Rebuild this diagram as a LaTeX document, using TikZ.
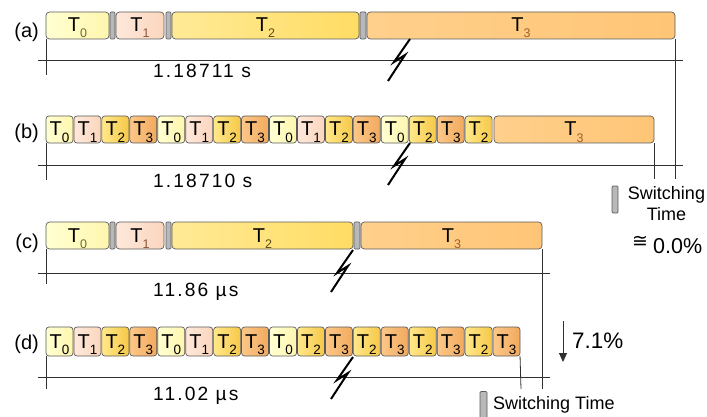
\documentclass[tikz,border=0pt]{standalone}
\usepackage{fontspec}
\setmainfont{Liberation Sans}
\newfontfamily\dejavu{DejaVu Sans}
\newfontfamily\spacedfont[LetterSpace=11]{Liberation Sans}
\usetikzlibrary{arrows.meta}
\definecolor{bordc}{HTML}{5A5A5A}
\definecolor{axc}{HTML}{303030}
\definecolor{sepc}{HTML}{B8B8B8}
\definecolor{zL}{HTML}{FFFFD2}
\definecolor{zR}{HTML}{FFF6AE}
\definecolor{oL}{HTML}{FEE8DA}
\definecolor{oR}{HTML}{FBD6BE}
\definecolor{tL}{HTML}{FFEA96}
\definecolor{tR}{HTML}{FFDC64}
\definecolor{hL}{HTML}{FFD08C}
\definecolor{hR}{HTML}{FFC576}
\definecolor{stL}{HTML}{FFE88A}
\definecolor{stR}{HTML}{F6C848}
\definecolor{shL}{HTML}{FBC788}
\definecolor{shR}{HTML}{F2AA5E}
\definecolor{subz}{HTML}{6E6A30}
\definecolor{subo}{HTML}{8A5538}
\definecolor{subt}{HTML}{5E4A18}
\definecolor{subh}{HTML}{A0602A}
\newcommand\tbox[7]{%
  \node[#6, minimum width={(#3-#2)*1pt}, minimum height={(#5-#4)*1pt}]
    (#1) at ({(#2+#3)/2},{(#4+#5)/2}) {#7};}
\newcommand\Tbig[2]{T\raisebox{-6pt}{\fontsize{12.5}{12}\selectfont\color{#2}#1}}
\newcommand\Tsm[1]{T\raisebox{-6pt}{\fontsize{13.5}{13}\selectfont #1}}
\begin{document}
\begin{tikzpicture}[x=1pt,y=-1pt,
  box/.style={draw=bordc, line width=0.7pt, rounded corners=3.5pt, inner sep=0pt, outer sep=0pt,
    font=\fontsize{20}{20}\selectfont, text height=13pt, text depth=0pt},
  big0/.style={box, left color=zL, right color=zR},
  big1/.style={box, left color=oL, right color=oR},
  big2/.style={box, left color=tL, right color=tR},
  big3/.style={box, left color=hL, right color=hR},
  small0/.style={box, rounded corners=3pt, left color=zL, right color=zR},
  small1/.style={box, rounded corners=3pt, left color=oL, right color=oR},
  small2/.style={box, rounded corners=3pt, left color=stL, right color=stR},
  small3/.style={box, rounded corners=3pt, left color=shL, right color=shR},
  sepbox/.style={draw=bordc, line width=0.7pt, fill=sepc, rounded corners=1pt, inner sep=0pt, outer sep=0pt},
  axis/.style={draw=axc, line width=0.8pt},
  bolt/.style={draw=black, line width=2pt},
  rowlab/.style={anchor=base east, inner sep=0pt, font=\fontsize{20}{20}\selectfont},
  timelab/.style={anchor=base west, inner sep=0pt, font=\spacedfont\fontsize{19.2}{19.2}\selectfont},
  legtxt/.style={inner sep=0pt, font=\fontsize{18}{20.5}\selectfont}
]
\useasboundingbox (0,0) rectangle (707,417);

% ---------- row (a)
\tbox{a0}{46}{109}{12}{39}{big0}{\Tbig{0}{subz}}
\tbox{as1}{110}{115}{12}{39}{sepbox}{}
\tbox{a1}{116}{164}{12}{39}{big1}{\Tbig{1}{subo}}
\tbox{as2}{166}{171}{12}{39}{sepbox}{}
\tbox{a2}{172}{359}{12}{39}{big2}{\Tbig{2}{subt}}
\tbox{as3}{360}{366}{12}{39}{sepbox}{}
\tbox{a3}{367}{675}{12}{39}{big3}{\Tbig{3}{subh}}
\node[rowlab] (la) at (39,38) {(a)};
\coordinate (aL) at (46,75);
\coordinate (aH1) at (38,60);
\coordinate (aH2) at (683,60);
\coordinate (aR) at (675,179);
\draw[axis] (a0.south west) -- (aL);
\draw[axis] (aH1) -- (aH2);
\draw[axis] (a3.south east) -- (aR);
\node[timelab] (ta) at (153,78) {1.18711 s};
\coordinate (boltA) at (410,39);
\draw[bolt] (boltA) -- ++(-16,23) -- ++(11,-7) -- ++(-17,26);

% ---------- row (b)
\foreach \k [count=\i from 0] in {0,1,2,3,0,1,2,3,0,1,2,3,0,2,3,2} {
  \pgfmathsetmacro\xa{46+\i*27.94}
  \pgfmathsetmacro\xb{\xa+27}
  \tbox{b\i}{\xa}{\xb}{116}{143}{small\k}{\Tsm{\k}}
}
\tbox{b16}{494}{654}{116}{143}{big3}{\Tbig{3}{subh}}
\node[rowlab] (lb) at (39,139) {(b)};
\coordinate (bL) at (46,180);
\coordinate (bH1) at (38,165);
\coordinate (bH2) at (683,165);
\coordinate (bR) at (654,179);
\draw[axis] (b0.south west) -- (bL);
\draw[axis] (bH1) -- (bH2);
\draw[axis] (b16.south east) -- (bR);
\node[timelab] (tb) at (153,187) {1.18710 s};
\coordinate (boltB) at (410,143);
\draw[bolt] (boltB) -- ++(-16,23) -- ++(11,-7) -- ++(-17,26);

% ---------- legend 1
\node[sepbox, minimum width=6pt, minimum height=27pt] (leg1) at (615,199.5) {};
\node[legtxt, anchor=base, align=center] (legt1) at (666.5,220) {Switching\\Time};
\node[anchor=base west, inner sep=0pt, font=\fontsize{21.5}{21.5}\selectfont] (pct0) at (632,253)
  {\raisebox{6pt}{\dejavu\fontsize{19}{19}\selectfont ≅}\hspace{5pt}0.0\%};

% ---------- row (c)
\tbox{c0}{46}{109}{222}{249}{big0}{\Tbig{0}{subz}}
\tbox{cs1}{110}{115}{222}{249}{sepbox}{}
\tbox{c1}{116}{164}{222}{249}{big1}{\Tbig{1}{subo}}
\tbox{cs2}{166}{171}{222}{249}{sepbox}{}
\tbox{c2}{172}{353}{222}{249}{big2}{\Tbig{2}{subt}}
\tbox{cs3}{354}{360}{222}{249}{sepbox}{}
\tbox{c3}{361}{542}{222}{249}{big3}{\Tbig{3}{subh}}
\node[rowlab] (lc) at (39,248) {(c)};
\coordinate (cL) at (46,284);
\coordinate (cH1) at (38,273);
\coordinate (cH2) at (550,273);
\coordinate (cR) at (542,389);
\draw[axis] (c0.south west) -- (cL);
\draw[axis] (cH1) -- (cH2);
\draw[axis] (c3.south east) -- (cR);
\node[timelab] (tc) at (153,296) {11.86 µs};
\coordinate (boltC) at (353,250);
\draw[bolt] (boltC) -- ++(-16,23) -- ++(11,-7) -- ++(-17,26);

% ---------- row (d)
\foreach \k [count=\i from 0] in {0,1,2,3,0,1,2,3,0,2,3,2,3,2,3,2,3} {
  \pgfmathsetmacro\xa{46+\i*27.94}
  \pgfmathsetmacro\xb{\xa+27}
  \tbox{d\i}{\xa}{\xb}{327}{356}{small\k}{\Tsm{\k}}
}
\node[rowlab] (ld) at (39,349) {(d)};
\coordinate (dL) at (46,389);
\coordinate (dH1) at (38,377);
\coordinate (dH2) at (550,377);
\coordinate (dR) at (521,389);
\draw[axis] (d0.south west) -- (dL);
\draw[axis] (dH1) -- (dH2);
\draw[axis] (d16.south east) -- (dR);
\node[timelab] (td) at (153,400) {11.02 µs};
\coordinate (boltD) at (353,357);
\draw[bolt] (boltD) -- ++(-16,23) -- ++(11,-7) -- ++(-17,26);

% ---------- 7.1 % arrow
\coordinate (arS) at (563,321);
\coordinate (arE) at (563,362);
\draw[axis, line width=1pt, -{Triangle[width=8pt,length=9pt]}] (arS) -- (arE);
\node[anchor=base west, inner sep=0pt, font=\fontsize{22.4}{22.4}\selectfont] (pct7) at (572,348) {7.1\%};

% ---------- legend 2
\node[sepbox, minimum width=7pt, minimum height=27pt] (leg2) at (483.5,405) {};
\node[legtxt, anchor=base west] (legt2) at (493,409) {Switching Time};
\end{tikzpicture}
\end{document}
